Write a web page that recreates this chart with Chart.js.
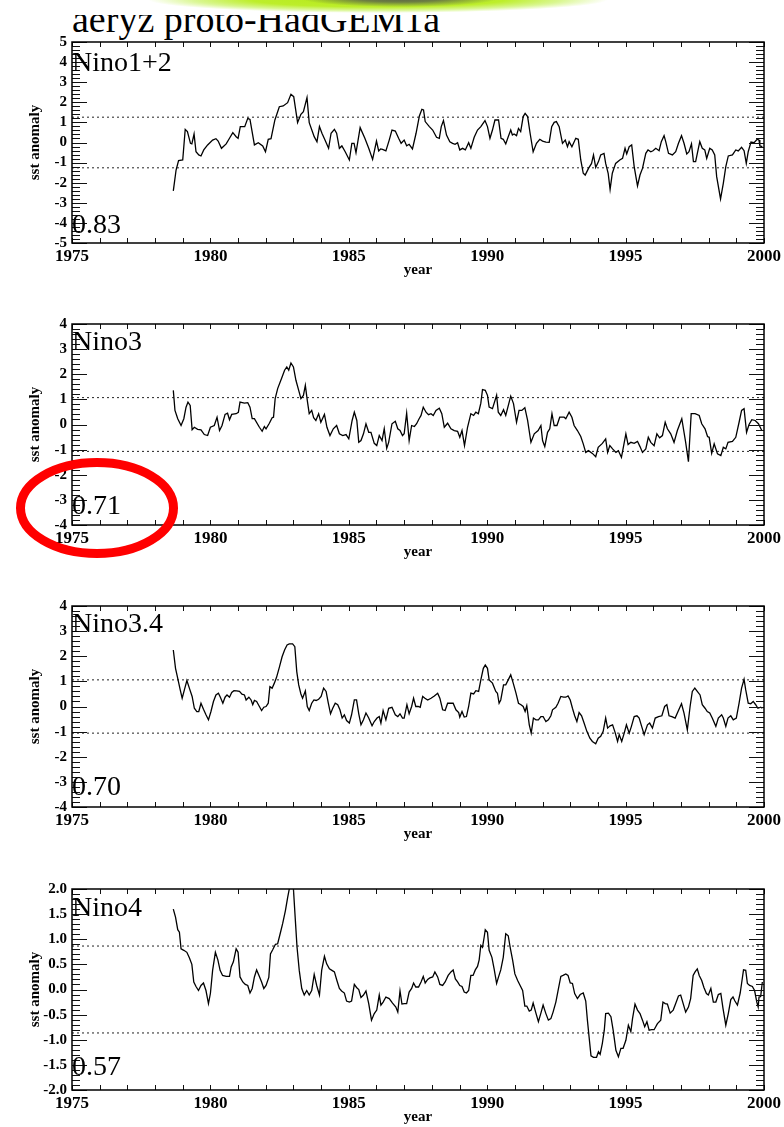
<!DOCTYPE html>
<html>
<head>
<meta charset="utf-8">
<script src="https://cdn.jsdelivr.net/npm/chart.js@4.4.1/dist/chart.umd.min.js"></script>
<style>
html,body{margin:0;padding:0;background:#fff;}
body{width:784px;height:1127px;position:relative;overflow:hidden;}
#glow{position:absolute;left:148px;top:-14px;width:460px;height:27px;border-radius:50%;
  background:radial-gradient(ellipse closest-side, #b4e818 0%, #bdee2a 55%, rgba(205,244,110,0.75) 80%, rgba(255,255,255,0) 100%);}
#glowdark{position:absolute;left:300px;top:-11px;width:200px;height:18px;border-radius:50%;
  background:radial-gradient(ellipse closest-side, rgba(82,88,72,0.95) 0%, rgba(96,108,72,0.85) 45%, rgba(150,190,50,0) 100%);}
#titleclip{position:absolute;left:0;top:15px;width:784px;height:30px;overflow:hidden;}
#maintitle{position:absolute;left:72px;top:-15px;font-family:"Liberation Serif","Times New Roman",serif;font-size:38px;line-height:38px;color:#000;white-space:nowrap;}
.panel{position:absolute;left:0;width:784px;height:290px;}
.panel canvas{display:block;}
#ring{position:absolute;left:0;top:0;width:784px;height:1127px;pointer-events:none;}
</style>
</head>
<body>
<div id="glow"></div>
<div id="glowdark"></div>
<div id="titleclip"><span id="maintitle">aeryz proto-HadGEM1a</span></div>
<div class="panel" style="top:22px"><canvas id="c0" width="784" height="290"></canvas></div>
<div class="panel" style="top:304px"><canvas id="c1" width="784" height="290"></canvas></div>
<div class="panel" style="top:586px"><canvas id="c2" width="784" height="290"></canvas></div>
<div class="panel" style="top:869px"><canvas id="c3" width="784" height="290"></canvas></div>
<svg id="ring" viewBox="0 0 784 1127"><ellipse cx="97" cy="508" rx="76.5" ry="45.5" fill="none" stroke="#ff0000" stroke-width="9"/></svg>
<script>
// ---- data ----
const regionNames = ['Nino1+2', 'Nino3', 'Nino3.4', 'Nino4'];
const corrLabels = ['0.83', '0.71', '0.70', '0.57'];
const sdLevels = [1.26, 1.07, 1.06, 0.865];
const yMins = [-5, -4, -4, -2];
const yMaxs = [5, 4, 4, 2];
const ySteps = [1, 1, 1, 0.5];
const yDecimals = [0, 0, 0, 1];
const xTickYears = [1975, 1980, 1985, 1990, 1995, 2000];

const nino12Years = [1978.66,1978.76,1978.85,1979.00,1979.09,1979.17,1979.28,1979.33,1979.41,1979.48,1979.58,1979.66,1979.76,1979.90,1980.08,1980.20,1980.28,1980.40,1980.57,1980.69,1980.81,1980.93,1981.00,1981.08,1981.24,1981.35,1981.43,1981.59,1981.73,1981.89,1981.99,1982.09,1982.19,1982.33,1982.49,1982.63,1982.79,1982.91,1983.01,1983.15,1983.27,1983.36,1983.49,1983.57,1983.75,1983.85,1983.94,1984.03,1984.14,1984.27,1984.36,1984.48,1984.56,1984.66,1984.75,1984.87,1985.02,1985.11,1985.19,1985.26,1985.41,1985.58,1985.72,1985.86,1986.00,1986.08,1986.15,1986.22,1986.34,1986.46,1986.56,1986.68,1986.80,1986.89,1987.00,1987.09,1987.18,1987.30,1987.43,1987.55,1987.64,1987.70,1987.76,1987.91,1988.03,1988.17,1988.27,1988.34,1988.42,1988.53,1988.65,1988.75,1988.84,1988.93,1989.01,1989.11,1989.21,1989.33,1989.41,1989.53,1989.65,1989.77,1989.92,1990.01,1990.10,1990.19,1990.28,1990.41,1990.50,1990.58,1990.67,1990.76,1990.85,1990.91,1990.97,1991.06,1991.13,1991.21,1991.30,1991.37,1991.46,1991.55,1991.66,1991.78,1991.90,1992.00,1992.12,1992.24,1992.33,1992.42,1992.50,1992.60,1992.72,1992.82,1992.90,1992.96,1993.06,1993.20,1993.29,1993.38,1993.47,1993.54,1993.66,1993.77,1993.84,1993.92,1994.02,1994.10,1994.22,1994.28,1994.37,1994.44,1994.52,1994.64,1994.79,1994.89,1994.98,1995.04,1995.13,1995.22,1995.31,1995.43,1995.52,1995.61,1995.73,1995.81,1995.91,1995.99,1996.09,1996.21,1996.29,1996.39,1996.45,1996.55,1996.69,1996.81,1996.91,1997.02,1997.11,1997.21,1997.29,1997.38,1997.45,1997.53,1997.68,1997.77,1997.86,1997.93,1998.04,1998.13,1998.22,1998.29,1998.43,1998.53,1998.62,1998.71,1998.86,1998.98,1999.07,1999.19,1999.28,1999.36,1999.43,1999.53,1999.64,1999.76,1999.82,1999.85,1999.94];
const nino12Values = [-2.41,-1.37,-0.90,-0.87,0.65,0.54,-0.04,-0.07,0.42,-0.46,-0.62,-0.67,-0.37,-0.12,0.12,0.19,0.07,-0.29,-0.07,0.21,0.49,0.29,0.21,0.79,0.79,1.20,1.15,-0.12,-0.01,-0.17,-0.46,0.16,0.19,1.12,1.78,1.82,1.98,2.40,2.28,0.99,1.40,1.53,2.23,0.99,0.29,0.04,0.79,0.46,0.12,-0.29,0.46,0.65,0.46,-0.29,-0.17,-0.46,-0.87,-0.04,-0.04,-0.51,0.74,0.21,-0.29,-0.84,0.07,-0.42,-0.32,-0.34,-0.42,0.12,0.62,0.57,0.21,-0.04,0.12,-0.16,-0.09,-0.32,0.46,1.32,1.65,1.62,1.04,0.79,0.62,0.26,0.21,0.79,1.09,0.37,0.04,-0.04,-0.09,-0.01,-0.37,-0.29,-0.37,-0.01,-0.29,0.26,0.62,0.79,1.09,0.79,0.21,0.62,1.12,1.12,0.21,0.16,-0.07,0.29,0.62,0.37,0.42,0.34,0.70,0.54,1.29,1.45,1.29,0.46,-0.46,-0.04,0.16,0.07,0.02,0.01,0.79,1.00,1.04,0.79,-0.04,0.12,-0.21,0.04,-0.21,0.21,0.16,-0.87,-1.53,-1.62,-1.29,-1.04,-0.62,-1.24,-0.95,-0.62,-0.54,-1.04,-1.53,-2.33,-1.53,-1.04,-0.87,-0.79,-0.29,-0.57,-0.21,-0.12,-1.20,-2.16,-1.62,-1.29,-0.54,-0.37,-0.46,-0.41,-0.29,-0.41,0.04,0.34,0.04,-0.54,-0.62,-0.46,-0.04,0.34,-0.04,-0.57,-0.46,-0.07,-0.95,-0.95,0.04,-0.29,-0.37,-0.79,-0.29,-0.37,-0.62,-1.70,-2.81,-2.03,-1.20,-0.67,-0.62,-0.37,-0.42,-0.24,-0.41,-1.04,-0.46,0.02,-0.01,0.17,0.12,-0.17,-0.21];

const nino3Years = [1978.66,1978.72,1978.82,1978.94,1979.04,1979.12,1979.19,1979.27,1979.34,1979.42,1979.54,1979.66,1979.78,1979.90,1980.00,1980.14,1980.24,1980.33,1980.42,1980.53,1980.62,1980.69,1980.77,1980.93,1981.01,1981.07,1981.23,1981.35,1981.43,1981.51,1981.59,1981.77,1981.87,1981.95,1982.01,1982.13,1982.23,1982.28,1982.34,1982.43,1982.59,1982.68,1982.76,1982.83,1982.91,1983.00,1983.09,1983.19,1983.27,1983.36,1983.43,1983.50,1983.57,1983.66,1983.73,1983.81,1983.91,1983.99,1984.12,1984.21,1984.32,1984.44,1984.56,1984.66,1984.78,1984.90,1985.00,1985.12,1985.20,1985.29,1985.36,1985.44,1985.53,1985.62,1985.72,1985.80,1985.92,1986.01,1986.10,1986.20,1986.28,1986.37,1986.44,1986.56,1986.68,1986.77,1986.85,1986.94,1987.00,1987.09,1987.18,1987.27,1987.37,1987.45,1987.54,1987.61,1987.69,1987.79,1987.88,1987.97,1988.05,1988.15,1988.27,1988.36,1988.45,1988.57,1988.69,1988.81,1988.93,1989.01,1989.09,1989.18,1989.29,1989.41,1989.51,1989.59,1989.68,1989.77,1989.83,1989.93,1990.01,1990.07,1990.19,1990.34,1990.40,1990.49,1990.59,1990.67,1990.85,1990.95,1991.06,1991.15,1991.25,1991.36,1991.46,1991.58,1991.70,1991.84,1991.94,1992.00,1992.08,1992.18,1992.26,1992.34,1992.42,1992.52,1992.62,1992.78,1992.84,1992.96,1993.06,1993.14,1993.26,1993.38,1993.47,1993.56,1993.66,1993.80,1993.92,1994.01,1994.16,1994.28,1994.35,1994.43,1994.53,1994.65,1994.74,1994.85,1995.01,1995.09,1995.19,1995.31,1995.43,1995.52,1995.61,1995.73,1995.82,1995.91,1996.03,1996.13,1996.23,1996.33,1996.43,1996.51,1996.63,1996.75,1996.87,1997.03,1997.17,1997.27,1997.37,1997.51,1997.66,1997.75,1997.87,1997.96,1998.02,1998.11,1998.20,1998.32,1998.44,1998.53,1998.62,1998.70,1998.86,1998.98,1999.10,1999.19,1999.28,1999.37,1999.46,1999.56,1999.68,1999.80,1999.92];
const nino3Values = [1.36,0.56,0.23,-0.04,0.23,0.69,0.89,0.76,-0.21,-0.11,-0.19,-0.21,-0.40,-0.44,-0.11,-0.04,0.29,-0.24,-0.04,0.40,0.45,0.19,0.40,0.43,0.48,0.89,0.85,0.87,0.69,0.23,0.23,-0.11,-0.27,-0.08,-0.17,0.05,0.27,0.29,1.03,1.43,1.89,2.16,2.29,2.16,2.45,2.29,1.76,1.36,1.03,1.16,1.56,0.96,0.43,0.56,0.27,0.16,0.43,0.09,0.40,-0.11,-0.44,-0.17,-0.04,-0.37,-0.44,-0.40,-0.57,0.16,0.49,0.16,-0.71,-0.64,-0.37,0.03,-0.31,-0.31,-0.75,-0.84,-0.44,-0.64,-0.17,-0.95,-0.71,0.03,0.13,-0.17,-0.24,-0.44,-0.37,0.45,-0.64,-0.04,-0.08,0.03,0.23,0.36,0.69,0.49,0.39,0.43,0.36,0.56,0.65,0.43,-0.11,0.05,-0.17,-0.24,-0.27,-0.51,-0.24,-0.84,-0.11,0.43,0.36,0.49,0.43,0.85,1.39,1.36,1.16,0.69,0.63,1.16,0.49,0.36,0.59,0.36,1.13,0.83,0.09,0.56,0.56,0.67,0.16,-0.71,-0.37,-0.24,-0.04,-0.64,-0.88,-0.31,-0.17,0.43,-0.04,-0.04,0.29,0.29,0.23,0.49,0.29,-0.04,-0.24,-0.48,-0.77,-1.11,-1.04,-1.15,-1.28,-0.91,-0.75,-0.57,-1.11,-0.84,-0.97,-1.11,-1.04,-1.31,-0.37,-0.80,-0.71,-0.75,-0.67,-0.88,-1.11,-0.97,-0.51,-0.71,-0.84,-0.37,-0.53,-0.44,0.09,-0.17,-0.37,-0.71,-0.24,0.23,-0.71,-1.48,0.43,0.43,0.36,0.03,-0.17,-0.48,-0.51,-1.15,-0.77,-1.17,-1.24,-0.91,-0.97,-0.71,-0.67,-0.51,0.09,0.56,0.63,-0.31,0.00,0.19,0.16,0.03,-0.24];

const nino34Years = [1978.66,1978.74,1978.82,1978.91,1978.98,1979.06,1979.15,1979.24,1979.34,1979.42,1979.51,1979.58,1979.66,1979.75,1979.84,1979.93,1980.02,1980.11,1980.20,1980.29,1980.36,1980.45,1980.53,1980.60,1980.69,1980.77,1980.85,1980.95,1981.05,1981.14,1981.23,1981.29,1981.39,1981.47,1981.53,1981.59,1981.67,1981.77,1981.85,1981.93,1982.01,1982.09,1982.15,1982.23,1982.31,1982.39,1982.49,1982.59,1982.68,1982.77,1982.85,1982.97,1983.05,1983.12,1983.19,1983.27,1983.33,1983.43,1983.50,1983.57,1983.66,1983.74,1983.82,1983.91,1984.00,1984.09,1984.18,1984.26,1984.34,1984.42,1984.51,1984.60,1984.68,1984.76,1984.84,1984.92,1985.02,1985.10,1985.20,1985.28,1985.36,1985.44,1985.53,1985.62,1985.72,1985.84,1985.92,1986.02,1986.10,1986.16,1986.24,1986.34,1986.44,1986.56,1986.68,1986.77,1986.85,1986.94,1987.00,1987.10,1987.18,1987.27,1987.34,1987.42,1987.51,1987.58,1987.67,1987.75,1987.85,1987.97,1988.09,1988.21,1988.29,1988.39,1988.48,1988.57,1988.69,1988.77,1988.87,1988.97,1989.01,1989.09,1989.17,1989.25,1989.33,1989.41,1989.51,1989.59,1989.69,1989.77,1989.86,1989.93,1990.01,1990.07,1990.19,1990.31,1990.37,1990.43,1990.49,1990.59,1990.67,1990.76,1990.85,1990.94,1991.04,1991.13,1991.22,1991.30,1991.37,1991.43,1991.52,1991.59,1991.67,1991.76,1991.85,1991.94,1992.02,1992.12,1992.21,1992.30,1992.36,1992.48,1992.56,1992.66,1992.76,1992.84,1992.92,1993.00,1993.08,1993.16,1993.24,1993.32,1993.41,1993.50,1993.60,1993.71,1993.80,1993.92,1994.01,1994.10,1994.19,1994.28,1994.35,1994.44,1994.53,1994.62,1994.71,1994.77,1994.86,1994.95,1995.03,1995.13,1995.21,1995.31,1995.41,1995.49,1995.58,1995.67,1995.79,1995.87,1995.97,1996.07,1996.19,1996.31,1996.41,1996.49,1996.57,1996.67,1996.79,1996.91,1997.02,1997.11,1997.23,1997.33,1997.41,1997.50,1997.59,1997.69,1997.77,1997.87,1997.95,1998.04,1998.13,1998.26,1998.35,1998.47,1998.53,1998.62,1998.70,1998.80,1998.89,1999.00,1999.10,1999.19,1999.28,1999.34,1999.43,1999.52,1999.61,1999.70,1999.78,1999.88,1999.94];
const nino34Values = [2.25,1.52,1.12,0.66,0.33,0.66,1.03,0.73,0.40,-0.07,-0.20,-0.20,0.13,-0.11,-0.33,-0.53,-0.20,0.20,0.46,0.53,0.37,0.13,0.37,0.46,0.37,0.56,0.63,0.62,0.60,0.49,0.46,0.26,0.37,0.26,0.07,0.24,0.20,0.00,-0.16,-0.03,0.00,0.13,0.79,0.73,0.93,1.16,1.56,1.98,2.25,2.45,2.49,2.49,2.38,1.39,0.86,0.50,0.33,0.62,0.00,-0.16,0.13,0.26,0.24,0.29,0.40,0.73,0.60,0.13,-0.29,-0.07,0.13,0.07,-0.13,-0.46,-0.33,-0.56,-0.66,-0.33,0.26,0.26,-0.29,-0.73,-0.53,-0.26,-0.46,-0.77,-0.60,-0.46,-0.40,-0.66,-0.16,-0.53,-0.07,-0.03,-0.33,-0.40,-0.29,-0.46,-0.46,0.07,-0.29,0.00,0.33,0.00,0.00,-0.03,0.40,0.33,0.26,0.33,0.42,0.53,0.33,-0.13,-0.16,0.13,0.13,0.13,-0.13,-0.24,-0.42,-0.20,-0.42,-0.40,0.00,0.53,0.50,0.63,0.60,1.06,1.52,1.65,1.52,1.06,0.93,0.60,0.53,0.13,0.26,0.86,0.86,1.06,1.26,0.93,0.53,0.13,0.07,0.00,-0.20,0.03,-0.73,-1.06,-0.46,-0.53,-0.53,-0.40,-0.40,-0.60,-0.53,-0.37,-0.13,-0.03,0.13,0.40,0.37,0.37,0.42,0.26,-0.07,-0.37,-0.60,-0.24,-0.37,-0.66,-0.99,-1.26,-1.39,-1.48,-1.26,-1.19,-0.99,-0.46,-0.86,-0.77,-0.73,-1.03,-1.39,-1.12,-1.39,-1.06,-0.73,-1.06,-0.79,-0.40,-0.37,-0.46,-0.79,-1.12,-0.73,-0.66,-0.86,-0.46,-0.40,-0.37,0.00,0.07,-0.37,-0.40,-0.46,-0.16,0.11,-0.26,-0.93,0.00,0.60,0.73,0.60,0.46,0.07,-0.07,-0.20,-0.26,-0.46,-0.79,-0.46,-0.33,-0.46,-0.79,-0.46,-0.37,-0.53,-0.46,0.13,0.73,1.08,0.66,0.13,0.11,0.20,0.07,-0.07,-0.03,-0.07];

const nino4Years = [1978.66,1978.74,1978.82,1978.88,1978.94,1979.04,1979.15,1979.24,1979.33,1979.40,1979.48,1979.57,1979.66,1979.75,1979.84,1979.93,1980.00,1980.08,1980.18,1980.27,1980.35,1980.44,1980.57,1980.69,1980.75,1980.83,1980.93,1981.00,1981.07,1981.17,1981.26,1981.35,1981.43,1981.51,1981.59,1981.67,1981.77,1981.85,1981.93,1982.01,1982.11,1982.17,1982.25,1982.35,1982.43,1982.52,1982.61,1982.71,1982.79,1982.85,1982.93,1983.00,1983.07,1983.13,1983.21,1983.30,1983.39,1983.48,1983.57,1983.66,1983.75,1983.84,1983.94,1984.02,1984.12,1984.20,1984.30,1984.39,1984.48,1984.57,1984.66,1984.74,1984.84,1984.92,1985.02,1985.10,1985.20,1985.28,1985.36,1985.44,1985.53,1985.62,1985.72,1985.82,1985.92,1986.01,1986.10,1986.16,1986.24,1986.34,1986.46,1986.58,1986.70,1986.77,1986.85,1986.92,1987.00,1987.09,1987.18,1987.27,1987.34,1987.42,1987.52,1987.61,1987.69,1987.76,1987.85,1987.93,1988.03,1988.11,1988.21,1988.29,1988.39,1988.48,1988.59,1988.69,1988.77,1988.85,1988.93,1989.01,1989.09,1989.17,1989.25,1989.33,1989.41,1989.49,1989.57,1989.65,1989.71,1989.77,1989.83,1989.89,1989.93,1990.01,1990.07,1990.17,1990.25,1990.34,1990.41,1990.49,1990.58,1990.67,1990.76,1990.83,1990.92,1991.00,1991.10,1991.19,1991.28,1991.36,1991.43,1991.52,1991.59,1991.66,1991.76,1991.85,1991.94,1992.02,1992.12,1992.21,1992.30,1992.38,1992.48,1992.56,1992.66,1992.74,1992.84,1992.92,1993.00,1993.08,1993.16,1993.26,1993.36,1993.47,1993.56,1993.62,1993.68,1993.75,1993.84,1993.95,1994.02,1994.08,1994.16,1994.23,1994.28,1994.38,1994.47,1994.55,1994.65,1994.74,1994.83,1994.91,1995.01,1995.10,1995.19,1995.25,1995.34,1995.43,1995.52,1995.61,1995.69,1995.77,1995.85,1995.94,1996.03,1996.15,1996.27,1996.35,1996.43,1996.51,1996.61,1996.72,1996.81,1996.91,1996.99,1997.08,1997.17,1997.27,1997.35,1997.44,1997.51,1997.59,1997.66,1997.75,1997.83,1997.92,1997.99,1998.08,1998.17,1998.26,1998.35,1998.44,1998.52,1998.62,1998.71,1998.80,1998.88,1998.95,1999.04,1999.14,1999.19,1999.26,1999.34,1999.40,1999.48,1999.58,1999.66,1999.74,1999.79,1999.82,1999.88,1999.94];
const nino4Values = [1.60,1.44,1.19,1.14,0.81,0.78,0.74,0.63,0.50,0.15,0.06,-0.02,0.08,0.13,-0.02,-0.28,-0.08,0.38,0.74,0.59,0.38,0.28,0.26,0.26,0.45,0.55,0.81,0.74,0.25,0.15,0.10,0.08,-0.07,0.02,0.25,0.39,0.26,0.15,0.02,0.08,0.24,0.71,0.79,0.90,0.91,1.11,1.31,1.57,1.83,2.00,2.25,2.00,1.37,0.84,0.38,0.02,-0.11,-0.02,-0.11,-0.02,0.30,0.08,-0.11,0.38,0.66,0.51,0.41,0.38,0.35,0.18,0.02,-0.03,-0.07,-0.23,-0.25,-0.23,0.10,0.04,0.00,-0.16,-0.11,-0.03,-0.28,-0.61,-0.48,-0.41,-0.11,-0.31,-0.25,-0.15,-0.18,-0.27,-0.35,-0.45,-0.03,-0.29,-0.28,-0.28,-0.05,0.02,0.13,0.05,0.05,0.15,0.26,0.13,0.20,0.23,0.25,0.35,0.25,0.10,0.08,0.15,0.28,0.35,0.39,0.21,0.15,0.08,0.06,-0.05,-0.07,-0.02,0.28,0.28,0.39,0.46,0.59,0.88,0.84,1.04,1.19,1.14,0.78,0.64,0.41,0.12,0.25,0.39,0.64,1.11,1.07,0.84,0.58,0.31,0.18,0.08,-0.02,-0.33,-0.33,-0.43,-0.41,-0.27,-0.47,-0.64,-0.47,-0.31,-0.48,-0.61,-0.58,-0.45,-0.25,-0.02,0.26,0.28,0.31,0.28,0.13,0.12,-0.08,-0.18,-0.10,-0.07,-0.23,-0.61,-0.94,-1.32,-1.35,-1.35,-1.24,-1.29,-1.07,-0.81,-0.48,-0.47,-0.54,-0.81,-1.21,-1.34,-1.17,-1.17,-1.01,-0.71,-0.84,-0.58,-0.29,-0.41,-0.48,-0.61,-0.74,-0.64,-0.81,-0.80,-0.80,-0.68,-0.61,-0.25,-0.28,-0.29,-0.47,-0.41,-0.28,-0.13,-0.11,-0.28,-0.45,-0.35,-0.18,0.28,0.35,0.41,0.28,0.18,0.04,-0.08,-0.11,0.02,-0.25,-0.25,-0.10,-0.08,-0.38,-0.71,-0.48,-0.20,-0.15,-0.23,-0.31,-0.07,0.12,0.39,0.38,0.12,0.08,0.06,-0.02,-0.25,-0.35,-0.15,-0.14,0.15];

const seriesYears = [nino12Years, nino3Years, nino34Years, nino4Years];
const seriesValues = [nino12Values, nino3Values, nino34Values, nino4Values];

// ---- style / layout ----
const SERIF = '"Liberation Serif", "Times New Roman", serif';
const nameBaselineOffset = [29, 26, 26, 27];
const corrBaselineOffset = [10, 11, 12, 15];

const idlFrame = {
  id: 'idlFrame',
  afterDatasetsDraw(chart, args, opts) {
    const {ctx, chartArea: a, scales: {x, y}} = chart;
    ctx.save();
    ctx.strokeStyle = '#111';
    ctx.lineWidth = 1;
    ctx.beginPath();
    for (let yr = Math.round(x.min); yr <= x.max; yr++) {
      const px = Math.round(x.getPixelForValue(yr)) + 0.5;
      ctx.moveTo(px, a.top); ctx.lineTo(px, a.top + 5);
      ctx.moveTo(px, a.bottom); ctx.lineTo(px, a.bottom - 5);
    }
    const minor = opts.step / 5;
    const n = Math.round((y.max - y.min) / minor);
    for (let i = 0; i <= n; i++) {
      const v = y.min + i * minor;
      const py = Math.round(y.getPixelForValue(v)) + 0.5;
      const len = (i % 5 === 0) ? 15 : 8;
      ctx.moveTo(a.left, py); ctx.lineTo(a.left + len, py);
      ctx.moveTo(a.right, py); ctx.lineTo(a.right - len, py);
    }
    ctx.stroke();
    ctx.lineWidth = 1.5;
    ctx.strokeStyle = '#000';
    ctx.strokeRect(a.left, a.top, a.right - a.left, a.bottom - a.top);
    ctx.restore();
  }
};

const idlText = {
  id: 'idlText',
  afterDraw(chart, args, opts) {
    const {ctx, chartArea: a} = chart;
    ctx.save();
    ctx.fillStyle = '#000';
    ctx.font = '28px ' + SERIF;
    ctx.textAlign = 'left';
    ctx.textBaseline = 'alphabetic';
    ctx.fillText(opts.name, a.left, a.top + opts.nameOffset);
    ctx.fillText(opts.corr, a.left, a.bottom - opts.corrOffset);
    ctx.restore();
  }
};

function makePanel(i) {
  const sd = sdLevels[i];
  new Chart(document.getElementById('c' + i), {
    type: 'line',
    data: {
      datasets: [
        { data: seriesYears[i].map((yr, k) => ({x: yr, y: seriesValues[i][k]})),
          borderColor: '#000', borderWidth: 1.3, pointRadius: 0, tension: 0, fill: false },
        { data: [{x: xTickYears[0], y: sd}, {x: xTickYears[xTickYears.length - 1], y: sd}],
          borderColor: '#222', borderWidth: 1, borderDash: [2, 3], pointRadius: 0, fill: false },
        { data: [{x: xTickYears[0], y: -sd}, {x: xTickYears[xTickYears.length - 1], y: -sd}],
          borderColor: '#222', borderWidth: 1, borderDash: [2, 3], pointRadius: 0, fill: false }
      ]
    },
    options: {
      responsive: false,
      animation: false,
      events: [],
      layout: { padding: { top: 20, right: 18, left: 0, bottom: 0 } },
      plugins: {
        legend: { display: false },
        tooltip: { enabled: false },
        idlFrame: { step: ySteps[i] },
        idlText: { name: regionNames[i], corr: corrLabels[i], nameOffset: nameBaselineOffset[i], corrOffset: corrBaselineOffset[i] }
      },
      scales: {
        x: {
          type: 'linear',
          min: xTickYears[0], max: xTickYears[xTickYears.length - 1],
          afterFit(s) { s.height = 69; },
          afterBuildTicks(s) { s.ticks = xTickYears.map(v => ({value: v})); },
          grid: { display: false, drawTicks: false },
          border: { display: false },
          ticks: { padding: 3, color: '#000', maxRotation: 0, autoSkip: false,
                   font: { family: SERIF, size: 17, weight: 'bold' },
                   callback: v => String(v) },
          title: { display: true, text: 'year', color: '#000',
                   font: { family: SERIF, size: 15, weight: 'bold' },
                   padding: { top: 0, bottom: 33 } }
        },
        y: {
          type: 'linear',
          min: yMins[i], max: yMaxs[i],
          afterFit(s) { s.width = 72; },
          grid: { display: false, drawTicks: false },
          border: { display: false },
          ticks: { stepSize: ySteps[i], padding: 5, color: '#000', autoSkip: false,
                   font: { family: SERIF, size: 15, weight: 'bold' },
                   callback: v => Number(v).toFixed(yDecimals[i]) },
          title: { display: true, text: 'sst anomaly', color: '#000',
                   font: { family: SERIF, size: 15, weight: 'bold' },
                   padding: { top: 26, bottom: 0 } }
        }
      }
    },
    plugins: [idlFrame, idlText]
  });
}
for (let i = 0; i < 4; i++) makePanel(i);
</script>
</body>
</html>
